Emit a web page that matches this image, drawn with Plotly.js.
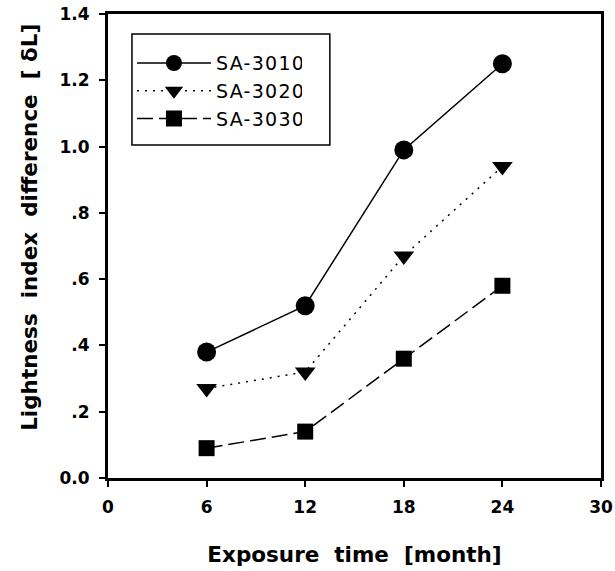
<!DOCTYPE html>
<html>
<head>
<meta charset="utf-8">
<script src="https://cdn.plot.ly/plotly-3.0.1.min.js"></script>
<style>html,body{margin:0;padding:0;background:#fff;}#chart{width:615px;height:571px;}
#chart .legendtext{letter-spacing:1.3px;}</style>
</head>
<body>
<div id="chart"></div>
<script>
const months = [6, 12, 18, 24];
const sa3010 = [0.38, 0.52, 0.99, 1.25];
const sa3020 = [0.27, 0.32, 0.67, 0.94];
const sa3030 = [0.09, 0.14, 0.36, 0.58];
const seriesNames = ['SA-3010', 'SA-3020', 'SA-3030'];
const yTickVals = [0, 0.2, 0.4, 0.6, 0.8, 1.0, 1.2, 1.4];
const yTickText = ['0.0', '.2', '.4', '.6', '.8', '1.0', '1.2', '1.4'];
const xTickVals = [0, 6, 12, 18, 24, 30];
const xTitle = 'Exposure\u00a0\u00a0time\u00a0\u00a0[month]';
const yTitle = '\u200b\u00a0\u00a0\u00a0\u00a0\u00a0Lightness\u00a0\u00a0index\u00a0\u00a0difference\u00a0\u00a0[\u00a0δL]';

const traces = [
  {x: months, y: sa3010, name: seriesNames[0], mode: 'lines+markers',
   line: {color: '#000', width: 1.5, dash: 'solid'},
   marker: {symbol: 'circle', size: 19, color: '#000'}},
  {x: months, y: sa3020, name: seriesNames[1], mode: 'lines+markers',
   line: {color: '#000', width: 1.5, dash: '2px,6px'},
   marker: {symbol: 'triangle-down', size: 18, color: '#000'}},
  {x: months, y: sa3030, name: seriesNames[2], mode: 'lines+markers',
   line: {color: '#000', width: 1.5, dash: '16px,6px'},
   marker: {symbol: 'square', size: 16, color: '#000'}}
];

const tickFont = {family: 'DejaVu Sans, sans-serif', size: 17, color: '#000', weight: 'bold'};
const titleFont = {family: 'DejaVu Sans, sans-serif', size: 21.5, color: '#000', weight: 'bold'};

const layout = {
  width: 615, height: 571,
  margin: {l: 108, r: 14, t: 14, b: 93},
  paper_bgcolor: '#fff', plot_bgcolor: '#fff',
  showlegend: true,
  legend: {x: 0.0486, y: 0.935, xanchor: 'left', yanchor: 'top',
    borderwidth: 0, bgcolor: 'rgba(0,0,0,0)',
    font: {family: 'DejaVu Sans, sans-serif', size: 19, color: '#000'},
    tracegroupgap: 0, itemwidth: 74},
  shapes: [{type: 'rect', xref: 'paper', yref: 'paper', x0: 0.0486, x1: 0.45, y0: 0.7177, y1: 0.957,
    line: {color: '#000', width: 1.5}, fillcolor: 'rgba(0,0,0,0)', layer: 'above'}],
  xaxis: {range: [0, 30], tickvals: xTickVals, ticks: 'outside', ticklen: 6, tickwidth: 2,
    tickcolor: '#000', showline: true, linewidth: 3, linecolor: '#000', mirror: true,
    showgrid: false, zeroline: false, tickfont: tickFont, ticklabelstandoff: 6,
    title: {text: xTitle, font: titleFont, standoff: 31}},
  yaxis: {range: [0, 1.4], tickvals: yTickVals, ticktext: yTickText, ticks: 'outside', ticklen: 6, tickwidth: 2,
    tickcolor: '#000', showline: true, linewidth: 3, linecolor: '#000', mirror: true,
    showgrid: false, zeroline: false, tickfont: tickFont, ticklabelstandoff: 6,
    title: {text: yTitle, font: titleFont, standoff: 16}}
};

Plotly.newPlot('chart', traces, layout, {staticPlot: true, displayModeBar: false});
</script>
</body>
</html>
